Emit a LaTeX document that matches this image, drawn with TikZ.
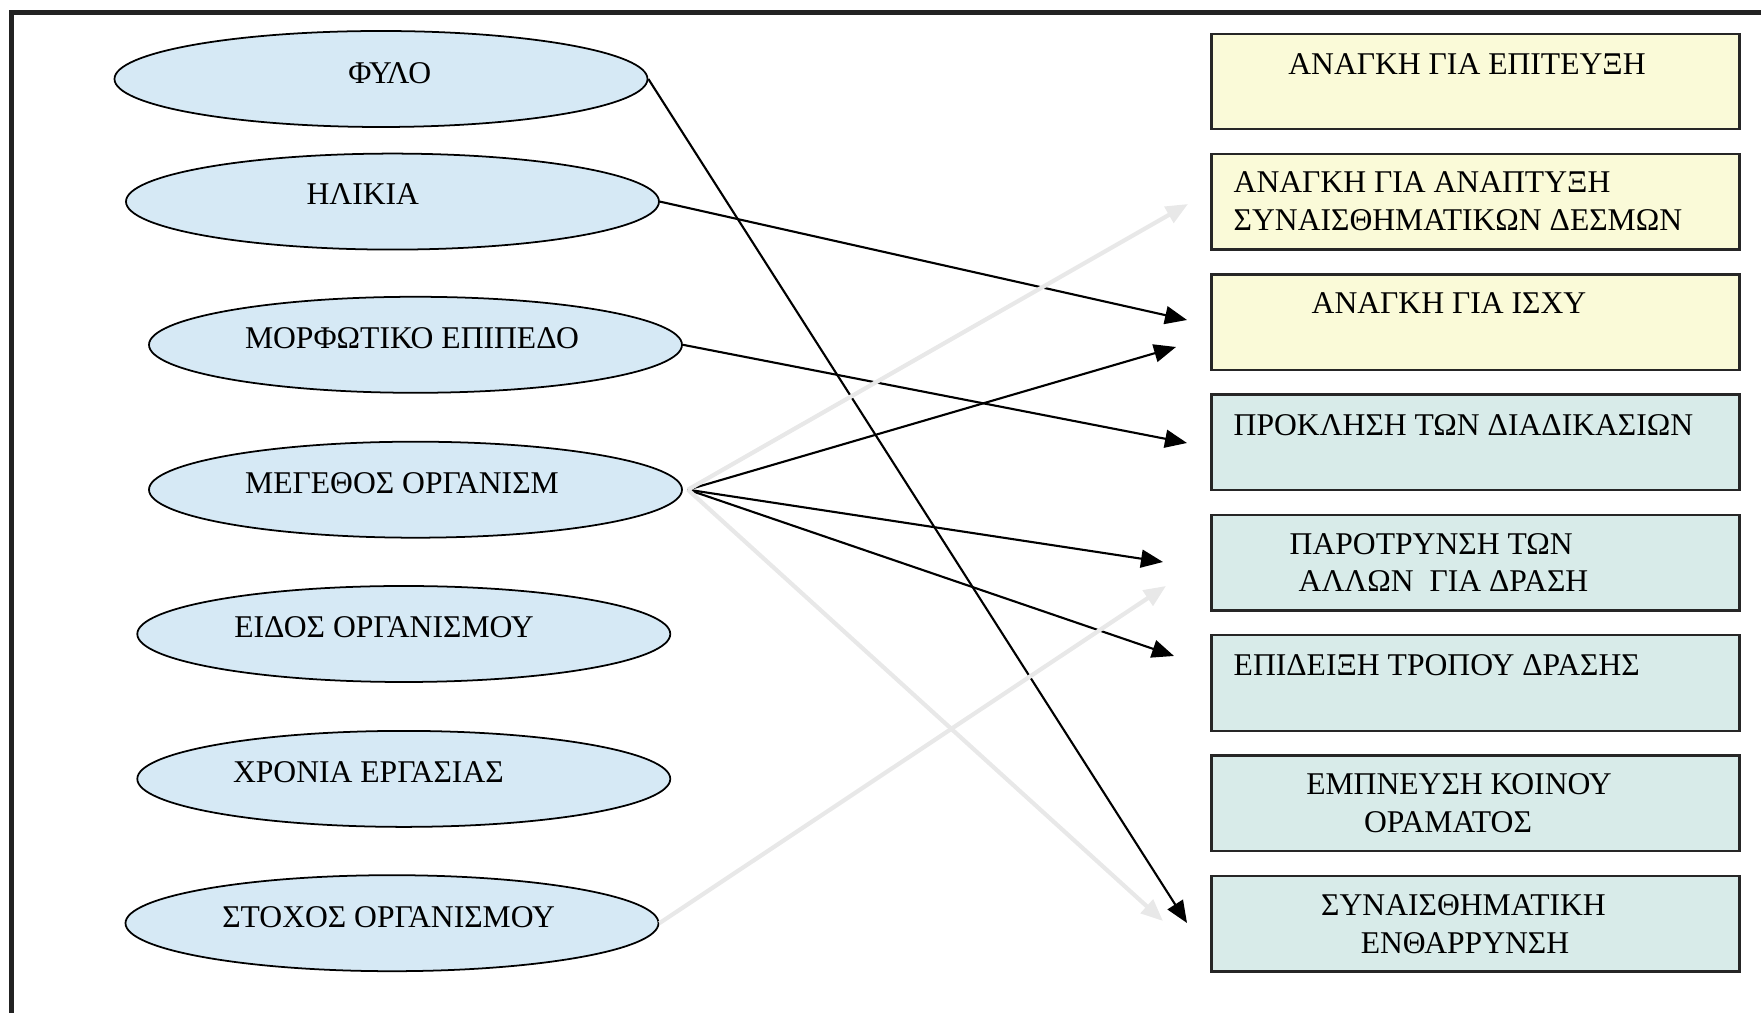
\documentclass[tikz,border=0pt]{standalone}
\usepackage{fontspec}
\setmainfont{Liberation Serif}
\usetikzlibrary{shapes.geometric,arrows.meta}
\definecolor{ellfill}{HTML}{D6E9F5}
\definecolor{yelfill}{HTML}{FAFAD8}
\definecolor{tealfill}{HTML}{D8EBE9}
\definecolor{ghost}{HTML}{E8E8E8}
\definecolor{frameclr}{HTML}{222222}
\begin{document}
\begin{tikzpicture}[x=0.1mm,y=-0.1mm,
 ell/.style={ellipse,draw=black,line width=0.5pt,fill=ellfill,minimum width=53.3mm,minimum height=9.6mm,inner sep=0pt},
 ybox/.style={rectangle,draw=black!85,line width=0.7pt,fill=yelfill,minimum width=52.8mm,minimum height=9.55mm,inner sep=0pt},
 tbox/.style={ybox,fill=tealfill},
 lbl/.style={inner sep=0pt,text height=6pt,text depth=0pt,font=\fontsize{9}{10.7}\selectfont},
 blk/.style={line width=0.6pt,-{Triangle[length=2.2mm,width=1.8mm]}},
 gry/.style={draw=ghost,line width=1.2pt,-{Triangle[length=2.2mm,width=1.8mm,fill=ghost]}}]
\useasboundingbox (0,0) rectangle (1761,1013);
\draw[frameclr,line width=1.4pt] (1761,12.5) -- (11.5,12.5) -- (11.5,1013);

% ellipses
\node[ell] (e1) at (381,79) {};
\node[ell] (e2) at (392.5,201.6) {};
\node[ell] (e3) at (415.5,344.8) {};
\node[ell] (e4) at (415.5,489.7) {};
\node[ell] (e5) at (403.8,634) {};
\node[ell] (e6) at (403.8,778.9) {};
\node[ell] (e7) at (392,923.2) {};

\node[lbl] (l1) at (389.7,73) {ΦΥΛΟ};
\node[lbl] (l2) at (362.8,194.3) {ΗΛΙΚΙΑ};
\node[lbl] (l3) at (412,338) {ΜΟΡΦΩΤΙΚΟ ΕΠΙΠΕΔΟ};
\node[lbl] (l4) at (402,483) {ΜΕΓΕΘΟΣ ΟΡΓΑΝΙΣΜ};
\node[lbl] (l5) at (384,626.7) {ΕΙΔΟΣ ΟΡΓΑΝΙΣΜΟΥ};
\node[lbl] (l6) at (368.4,771.6) {ΧΡΟΝΙΑ ΕΡΓΑΣΙΑΣ};
\node[lbl] (l7) at (388.6,916.5) {ΣΤΟΧΟΣ ΟΡΓΑΝΙΣΜΟΥ};

% boxes
\node[ybox] (b1) at (1475.7,81.5) {};
\node[ybox] (b2) at (1475.7,201.8) {};
\node[ybox] (b3) at (1475.7,322.1) {};
\node[tbox] (b4) at (1475.7,442.4) {};
\node[tbox] (b5) at (1475.7,562.7) {};
\node[tbox] (b6) at (1475.7,683) {};
\node[tbox] (b7) at (1475.7,803.3) {};
\node[tbox] (b8) at (1475.7,923.6) {};

\node[lbl] (k1) at (1467,64) {ΑΝΑΓΚΗ ΓΙΑ ΕΠΙΤΕΥΞΗ};
\node[lbl,anchor=west] (k2a) at (1233,182) {ΑΝΑΓΚΗ ΓΙΑ ΑΝΑΠΤΥΞΗ};
\node[lbl,anchor=west] (k2b) at (1233,220) {ΣΥΝΑΙΣΘΗΜΑΤΙΚΩΝ ΔΕΣΜΩΝ};
\node[lbl] (k3) at (1449,303) {ΑΝΑΓΚΗ ΓΙΑ ΙΣΧΥ};
\node[lbl,anchor=west] (k4) at (1233,424.5) {ΠΡΟΚΛΗΣΗ ΤΩΝ ΔΙΑΔΙΚΑΣΙΩΝ};
\node[lbl,anchor=west] (k5a) at (1289,543.6) {ΠΑΡΟΤΡΥΝΣΗ ΤΩΝ};
\node[lbl,anchor=west] (k5b) at (1298,580.6) {ΑΛΛΩΝ\ \ ΓΙΑ ΔΡΑΣΗ};
\node[lbl,anchor=west] (k6) at (1233,665) {ΕΠΙΔΕΙΞΗ ΤΡΟΠΟΥ ΔΡΑΣΗΣ};
\node[lbl] (k7a) at (1459,784) {ΕΜΠΝΕΥΣΗ ΚΟΙΝΟΥ};
\node[lbl] (k7b) at (1448,822) {ΟΡΑΜΑΤΟΣ};
\node[lbl] (k8a) at (1463.5,905) {ΣΥΝΑΙΣΘΗΜΑΤΙΚΗ};
\node[lbl] (k8b) at (1465,943) {ΕΝΘΑΡΡΥΝΣΗ};

% connector end points
\coordinate (m0) at ([xshift=0.5mm]e4.east);
\coordinate (t1) at (1187,923);
\coordinate (t2) at (1187,320);
\coordinate (t3) at (1187,443);
\coordinate (t4) at (1176,347);
\coordinate (t5) at (1163,562);
\coordinate (t6) at (1174,656);
\coordinate (g1) at (1188,204);
\coordinate (g2) at (1163,921);
\coordinate (g3) at (1166,586);

% black arrows
\draw[blk] (e1.east) -- (t1);
\draw[blk] (e2.east) -- (t2);
\draw[blk] (e3.east) -- (t3);
\draw[blk] (m0) -- (t4);
\draw[blk] (m0) -- (t5);
\draw[blk] (m0) -- (t6);

% faint arrows
\draw[gry] (m0) -- (g1);
\draw[gry] (m0) -- (g2);
\draw[gry] (e7.east) -- (g3);
\end{tikzpicture}
\end{document}
